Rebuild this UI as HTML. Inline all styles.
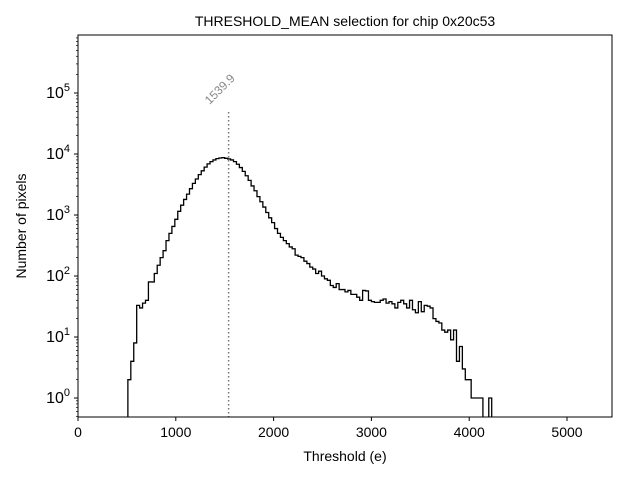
<!DOCTYPE html>
<html><head><meta charset="utf-8"><style>
html,body{margin:0;background:#fff;width:640px;height:480px;overflow:hidden}
svg{display:block;font-family:"Liberation Sans","DejaVu Sans",sans-serif}
</style></head><body>
<svg id="chart" width="640" height="480" viewBox="0 0 640 480">
<defs><clipPath id="pc"><rect x="78" y="35" width="534" height="382"/></clipPath></defs>
<rect x="0" y="0" width="640" height="480" fill="#fff"/>
<text x="345" y="26" font-size="14" text-anchor="middle">THRESHOLD_MEAN selection for chip 0x20c53</text>
<g id="marks" clip-path="url(#pc)"></g>
<g id="axes"></g>
<text x="345" y="461" font-size="14" text-anchor="middle">Threshold (e)</text>
<text transform="translate(26,226) rotate(-90)" font-size="14" text-anchor="middle">Number of pixels</text>
</svg>
<script>
const binStart = 510;
const binWidth = 30;
const counts = [2,4,8,33,30,36,40,80,80,110,150,200,260,380,500,650,850,1150,1450,1800,2200,2700,3300,3900,4600,5300,6100,6900,7500,8000,8400,8600,8700,8500,8300,8000,7500,6800,6000,5200,4400,3700,3000,2500,2000,1650,1350,1100,900,750,600,500,430,380,340,300,280,220,210,200,175,160,140,130,110,120,100,90,85,70,65,75,60,60,55,58,50,50,45,40,58,57,40,38,37,37,40,42,36,38,35,30,37,40,35,30,40,28,25,38,26,33,32,30,20,18,17,13,12,13,9,13,4,7,3,2,2,1,1,1,1,0,0,1];
const meanValue = 1539.9;
const meanLabel = "1539.9";
const xTicks = [0,1000,2000,3000,4000,5000];
const yTickExps = [0,1,2,3,4,5];
const xMin = 0, xMax = 5460, yMinL = -0.311, yMaxL = 5.951;
const L=78,R=612,T=35,B=417;
function xs(v){return L+(v-xMin)/(xMax-xMin)*(R-L);}
function ys(c){if(c<=0)return B+3;const l=Math.log10(c);return B-(l-yMinL)/(yMaxL-yMinL)*(B-T);}
const NS="http://www.w3.org/2000/svg";
function mk(tag,attrs,parent){const e=document.createElementNS(NS,tag);for(const k in attrs)e.setAttribute(k,attrs[k]);parent.appendChild(e);return e;}
const marks=document.getElementById('marks');
const axes=document.getElementById('axes');
let d="M"+xs(binStart)+","+(B+3);
counts.forEach((c,i)=>{const x0=xs(binStart+i*binWidth),x1=xs(binStart+(i+1)*binWidth),y=ys(c);d+=" L"+x0+","+y+" L"+x1+","+y;});
d+=" L"+xs(binStart+counts.length*binWidth)+","+(B+3);
const hist=mk('path',{d:d,fill:'none',stroke:'#000','stroke-width':1.3},marks);


const mx=xs(meanValue);
const ml=mk('line',{x1:mx,x2:mx,y1:112,y2:B,stroke:'#777','stroke-width':1.5,'stroke-dasharray':'1.5,2.5'},axes);


const mt=mk('text',{transform:'translate('+(mx-19)+',105) rotate(-45)','font-size':12,fill:'#888'},axes);
mt.textContent=meanLabel;


const fr=mk('rect',{x:L,y:T,width:R-L,height:B-T,fill:'none',stroke:'#000','stroke-width':1},axes);


xTicks.forEach(v=>{const x=xs(v);
 const t=mk('line',{x1:x,x2:x,y1:B,y2:B+4,stroke:'#000'},axes);
 
 
 const tx=mk('text',{x:x,y:B+20,'font-size':14,'text-anchor':'middle'},axes);
 tx.textContent=String(v);
 
 
});
yTickExps.forEach(e=>{const y=ys(Math.pow(10,e));
 const t=mk('line',{x1:L-4,x2:L,y1:y,y2:y,stroke:'#000'},axes);
 
 
 const tx=mk('text',{x:L-8,y:y+5,'font-size':16,'text-anchor':'end'},axes);
 
 
 const a=mk('tspan',{},tx);a.textContent='10';
 const s=mk('tspan',{dy:-7,'font-size':11},tx);s.textContent=String(e);
});
for(let e=-1;e<=5;e++){for(let m=2;m<=9;m++){const v=m*Math.pow(10,e);const l=Math.log10(v);if(l<yMinL||l>yMaxL)continue;const y=ys(v);
 const t=mk('line',{x1:L-2,x2:L,y1:y,y2:y,stroke:'#000','stroke-width':0.7},axes);
 
 
}}
</script>
</body></html>
